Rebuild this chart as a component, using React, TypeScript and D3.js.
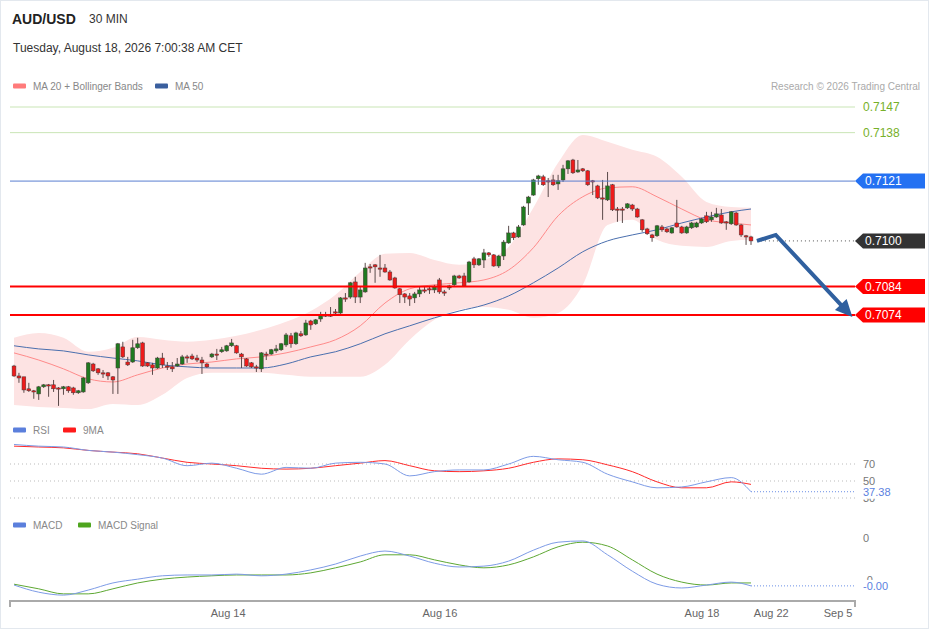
import React, { useRef, useEffect } from 'react';
import * as d3 from 'd3';

// 30 min candles
const opens = [
  0.70561, 0.70526, 0.70523, 0.70481, 0.70474, 0.70463, 0.70488, 0.70495, 0.70495, 0.70484,
  0.70481, 0.70488, 0.70484, 0.70467, 0.70470, 0.70502, 0.70568, 0.70551, 0.70537, 0.70537,
  0.70523, 0.70554, 0.70628, 0.70575, 0.70575, 0.70625, 0.70642, 0.70572, 0.70565, 0.70554,
  0.70589, 0.70561, 0.70558, 0.70561, 0.70568, 0.70593, 0.70596, 0.70589, 0.70582, 0.70568,
  0.70593, 0.70603, 0.70611, 0.70614, 0.70632, 0.70632, 0.70603, 0.70586, 0.70572, 0.70558,
  0.70551, 0.70603, 0.70603, 0.70614, 0.70618, 0.70635, 0.70667, 0.70639, 0.70674, 0.70670,
  0.70719, 0.70709, 0.70726, 0.70740, 0.70740, 0.70751, 0.70747, 0.70800, 0.70803, 0.70856,
  0.70803, 0.70821, 0.70909, 0.70916, 0.70905, 0.70905, 0.70891, 0.70870, 0.70832, 0.70814,
  0.70807, 0.70800, 0.70814, 0.70828, 0.70832, 0.70828, 0.70863, 0.70821, 0.70835, 0.70846,
  0.70877, 0.70877, 0.70856, 0.70937, 0.70916, 0.70933, 0.70958, 0.70951, 0.70912, 0.70947,
  0.70993, 0.71028, 0.71014, 0.71056, 0.71133, 0.71161, 0.71218, 0.71225, 0.71211, 0.71214,
  0.71200, 0.71214, 0.71253, 0.71284, 0.71242, 0.71253, 0.71246, 0.71211, 0.71193, 0.71151,
  0.71144, 0.71197, 0.71112, 0.71112, 0.71116, 0.71126, 0.71112, 0.71074, 0.71042, 0.71021,
  0.71018, 0.71049, 0.71042, 0.71028, 0.71063, 0.71049, 0.71028, 0.71046, 0.71049, 0.71063,
  0.71088, 0.71074, 0.71084, 0.71091, 0.71067, 0.71060, 0.71098, 0.71056, 0.71018, 0.71014,
];
const highs = [
  0.70565, 0.70537, 0.70523, 0.70502, 0.70477, 0.70491, 0.70498, 0.70498, 0.70512, 0.70487,
  0.70491, 0.70491, 0.70488, 0.70477, 0.70523, 0.70575, 0.70572, 0.70554, 0.70547, 0.70540,
  0.70526, 0.70642, 0.70646, 0.70593, 0.70653, 0.70660, 0.70646, 0.70575, 0.70572, 0.70593,
  0.70607, 0.70575, 0.70575, 0.70589, 0.70600, 0.70600, 0.70604, 0.70600, 0.70593, 0.70572,
  0.70607, 0.70621, 0.70628, 0.70635, 0.70656, 0.70635, 0.70607, 0.70589, 0.70575, 0.70565,
  0.70610, 0.70611, 0.70621, 0.70635, 0.70642, 0.70677, 0.70677, 0.70681, 0.70684, 0.70723,
  0.70723, 0.70726, 0.70751, 0.70751, 0.70768, 0.70761, 0.70803, 0.70817, 0.70856, 0.70874,
  0.70839, 0.70923, 0.70919, 0.70919, 0.70951, 0.70919, 0.70898, 0.70874, 0.70835, 0.70817,
  0.70817, 0.70821, 0.70839, 0.70839, 0.70839, 0.70846, 0.70870, 0.70828, 0.70846, 0.70881,
  0.70881, 0.70888, 0.70930, 0.70944, 0.70940, 0.70972, 0.70961, 0.70954, 0.70951, 0.71003,
  0.71053, 0.71032, 0.71056, 0.71123, 0.71158, 0.71218, 0.71232, 0.71232, 0.71221, 0.71232,
  0.71232, 0.71267, 0.71284, 0.71288, 0.71284, 0.71256, 0.71249, 0.71214, 0.71197, 0.71214,
  0.71242, 0.71200, 0.71119, 0.71119, 0.71133, 0.71130, 0.71116, 0.71077, 0.71046, 0.71025,
  0.71056, 0.71056, 0.71046, 0.71049, 0.71144, 0.71053, 0.71053, 0.71067, 0.71067, 0.71081,
  0.71102, 0.71102, 0.71116, 0.71112, 0.71070, 0.71105, 0.71102, 0.71060, 0.71021, 0.71018,
];
const lows = [
  0.70523, 0.70502, 0.70467, 0.70470, 0.70446, 0.70442, 0.70484, 0.70453, 0.70470, 0.70421,
  0.70460, 0.70467, 0.70460, 0.70463, 0.70467, 0.70498, 0.70540, 0.70530, 0.70519, 0.70512,
  0.70463, 0.70463, 0.70589, 0.70561, 0.70572, 0.70621, 0.70558, 0.70558, 0.70530, 0.70551,
  0.70554, 0.70547, 0.70540, 0.70558, 0.70565, 0.70572, 0.70582, 0.70575, 0.70533, 0.70554,
  0.70589, 0.70582, 0.70607, 0.70611, 0.70628, 0.70604, 0.70554, 0.70558, 0.70554, 0.70540,
  0.70540, 0.70582, 0.70600, 0.70607, 0.70614, 0.70628, 0.70625, 0.70635, 0.70663, 0.70667,
  0.70688, 0.70705, 0.70716, 0.70733, 0.70733, 0.70740, 0.70744, 0.70786, 0.70797, 0.70782,
  0.70782, 0.70818, 0.70888, 0.70853, 0.70874, 0.70888, 0.70860, 0.70832, 0.70782, 0.70782,
  0.70772, 0.70782, 0.70803, 0.70817, 0.70814, 0.70817, 0.70814, 0.70807, 0.70828, 0.70842,
  0.70867, 0.70839, 0.70853, 0.70905, 0.70912, 0.70905, 0.70944, 0.70909, 0.70905, 0.70933,
  0.70990, 0.71003, 0.71011, 0.71053, 0.71091, 0.71158, 0.71197, 0.71193, 0.71154, 0.71193,
  0.71179, 0.71207, 0.71235, 0.71235, 0.71239, 0.71242, 0.71193, 0.71161, 0.71147, 0.71074,
  0.71140, 0.71105, 0.71067, 0.71063, 0.71112, 0.71105, 0.71081, 0.71032, 0.71021, 0.70997,
  0.71014, 0.71032, 0.71028, 0.71025, 0.71046, 0.71025, 0.71025, 0.71042, 0.71046, 0.71060,
  0.71063, 0.71067, 0.71081, 0.71060, 0.71039, 0.71056, 0.71053, 0.71014, 0.70986, 0.70986,
];
const closes = [
  0.70526, 0.70519, 0.70477, 0.70474, 0.70470, 0.70488, 0.70495, 0.70491, 0.70481, 0.70482,
  0.70488, 0.70474, 0.70467, 0.70474, 0.70519, 0.70572, 0.70544, 0.70537, 0.70533, 0.70526,
  0.70512, 0.70639, 0.70593, 0.70565, 0.70625, 0.70639, 0.70561, 0.70561, 0.70554, 0.70589,
  0.70565, 0.70558, 0.70551, 0.70568, 0.70593, 0.70589, 0.70586, 0.70582, 0.70572, 0.70558,
  0.70603, 0.70601, 0.70618, 0.70632, 0.70642, 0.70607, 0.70593, 0.70561, 0.70558, 0.70556,
  0.70607, 0.70601, 0.70618, 0.70621, 0.70639, 0.70670, 0.70639, 0.70677, 0.70667, 0.70712,
  0.70705, 0.70723, 0.70737, 0.70738, 0.70738, 0.70749, 0.70800, 0.70798, 0.70853, 0.70803,
  0.70828, 0.70905, 0.70907, 0.70909, 0.70903, 0.70891, 0.70863, 0.70835, 0.70811, 0.70803,
  0.70796, 0.70814, 0.70828, 0.70826, 0.70830, 0.70839, 0.70821, 0.70817, 0.70842, 0.70877,
  0.70870, 0.70842, 0.70926, 0.70916, 0.70937, 0.70958, 0.70951, 0.70912, 0.70947, 0.70996,
  0.71028, 0.71011, 0.71049, 0.71119, 0.71154, 0.71214, 0.71228, 0.71197, 0.71209, 0.71197,
  0.71211, 0.71253, 0.71281, 0.71239, 0.71249, 0.71246, 0.71197, 0.71209, 0.71151, 0.71149,
  0.71193, 0.71109, 0.71110, 0.71110, 0.71130, 0.71112, 0.71084, 0.71039, 0.71025, 0.71011,
  0.71053, 0.71039, 0.71032, 0.71046, 0.71049, 0.71028, 0.71049, 0.71063, 0.71063, 0.71077,
  0.71067, 0.71084, 0.71095, 0.71063, 0.71065, 0.71102, 0.71056, 0.71021, 0.71014, 0.71000,
];

// indicator readings, sampled every 5 candles
const sampleIdx = [0, 5, 10, 15, 20, 25, 30, 35, 40, 45, 50, 55, 60, 65, 70, 75, 80, 85, 90, 95, 100, 105, 110, 115, 120, 125, 130, 135, 140, 145, 149];
const ma20 = [0.70607, 0.70582, 0.70551, 0.70516, 0.70505, 0.70530, 0.70554, 0.70568, 0.70575, 0.70586, 0.70593, 0.70607, 0.70628, 0.70653, 0.70702, 0.70782, 0.70832, 0.70846, 0.70853, 0.70863, 0.70898, 0.70976, 0.71088, 0.71155, 0.71186, 0.71190, 0.71155, 0.71112, 0.71074, 0.71063, 0.71056];
const ma50 = [0.70632, 0.70621, 0.70614, 0.70600, 0.70589, 0.70579, 0.70565, 0.70558, 0.70554, 0.70554, 0.70554, 0.70568, 0.70593, 0.70611, 0.70639, 0.70674, 0.70702, 0.70730, 0.70754, 0.70775, 0.70807, 0.70853, 0.70905, 0.70962, 0.71000, 0.71021, 0.71039, 0.71063, 0.71084, 0.71102, 0.71112];
const bbUpper = [0.70660, 0.70677, 0.70660, 0.70611, 0.70625, 0.70663, 0.70653, 0.70646, 0.70653, 0.70667, 0.70688, 0.70716, 0.70754, 0.70811, 0.70891, 0.70955, 0.70958, 0.70933, 0.70916, 0.70933, 0.70979, 0.71116, 0.71274, 0.71372, 0.71348, 0.71320, 0.71295, 0.71225, 0.71137, 0.71119, 0.71116];
const bbLower = [0.70424, 0.70417, 0.70414, 0.70410, 0.70428, 0.70424, 0.70460, 0.70519, 0.70537, 0.70537, 0.70537, 0.70530, 0.70523, 0.70523, 0.70523, 0.70565, 0.70653, 0.70723, 0.70758, 0.70768, 0.70758, 0.70730, 0.70747, 0.70846, 0.71056, 0.71074, 0.71004, 0.70983, 0.70979, 0.71000, 0.71004];
const rsi = [93, 91, 90, 86, 84, 81, 77, 68, 71, 65, 58, 66, 65, 71, 72, 70, 56, 61, 63, 63, 70, 79, 75, 72, 58, 49, 42, 43, 49, 54, 37.38];
const rsiMa = [91, 90, 89, 86, 84, 82, 77, 72, 70, 68, 65, 64, 65, 68, 71, 74, 68, 62, 61, 62, 65, 72, 76, 75, 69, 61, 49, 42, 42, 49, 46];
const macd = [-0.00112, -0.00129, -0.00136, -0.00124, -0.00107, -0.00098, -0.0009, -0.00088, -0.00088, -0.00086, -0.0009, -0.00086, -0.00076, -0.00062, -0.00043, -0.00031, -0.00043, -0.0006, -0.00069, -0.00067, -0.00055, -0.00029, -0.0001, -0.00007, -0.0004, -0.00079, -0.0011, -0.00119, -0.00112, -0.00105, -0.00114];
const macdSignal = [-0.0011, -0.00121, -0.00133, -0.00133, -0.00121, -0.00107, -0.00098, -0.00093, -0.0009, -0.00088, -0.00088, -0.00088, -0.00083, -0.00071, -0.00057, -0.0004, -0.0004, -0.00052, -0.00064, -0.00071, -0.00064, -0.00045, -0.00021, -0.0001, -0.00019, -0.00052, -0.00086, -0.00105, -0.00112, -0.00107, -0.00107];

const xTickIdx = [43.3, 86.1, 139.1, 153.1, 166.6];
const xTickLabels = ['Aug 14', 'Aug 16', 'Aug 18', 'Aug 22', 'Sep 5'];

// key levels
const levelValues = [0.7147, 0.7138, 0.7121, 0.71, 0.7084, 0.7074];
const levelKinds = ['target', 'target', 'pivot', 'last', 'support', 'support'];

// forecast arrow (candle index, price)
const arrowIdx = [150.2, 154, 169.5];
const arrowPrice = [0.71, 0.71021, 0.70733];

const rsiTicks = [70, 50, 30];
const macdTicks = [0, -0.001];
const macdTickLabels = ['0', '-0'];

const FONT = '"Liberation Sans", Arial, Helvetica, sans-serif';
const GREEN = '#1f7a1f';
const RED = '#ee1b1b';

const App: React.FC = () => {
  const ref = useRef<SVGSVGElement>(null);

  useEffect(() => {
    if (!ref.current) return;
    const svg = d3.select(ref.current);
    svg.selectAll('*').remove();
    svg.attr('font-family', FONT);

    const x = d3.scaleLinear().domain([0, 149]).range([14, 751]);
    const y = d3.scaleLinear().domain([0.7074, 0.7147]).range([315, 107]);
    const yRsi = d3.scaleLinear().domain([30, 70]).range([498, 464]);
    const yMacd = d3.scaleLinear().domain([-0.001, 0]).range([580, 538]);
    const left = 10;
    const right = 855;

    svg.append('rect').attr('x', 0.5).attr('y', 0.5).attr('width', 928).attr('height', 628)
      .attr('fill', '#fff').attr('stroke', '#e3e8ee');

    // header
    svg.append('text').attr('x', 12).attr('y', 24).attr('font-size', 14).attr('font-weight', 'bold')
      .attr('fill', '#222').text('AUD/USD');
    svg.append('text').attr('x', 89).attr('y', 23).attr('font-size', 12).attr('fill', '#333').text('30 MIN');
    svg.append('text').attr('x', 13).attr('y', 52).attr('font-size', 12).attr('fill', '#333')
      .text('Tuesday, August 18, 2026 7:00:38 AM CET');

    const legend = (lx: number, ly: number, color: string, label: string) => {
      svg.append('rect').attr('x', lx).attr('y', ly - 2.5).attr('width', 13).attr('height', 5).attr('rx', 1).attr('fill', color);
      svg.append('text').attr('x', lx + 20).attr('y', ly + 3.5).attr('font-size', 10).attr('fill', '#888').text(label);
    };
    legend(13, 86, '#ff7b7b', 'MA 20 + Bollinger Bands');
    legend(155, 86, '#3a5f9e', 'MA 50');
    svg.append('text').attr('x', 920).attr('y', 89.5).attr('text-anchor', 'end').attr('font-size', 10)
      .attr('fill', '#aaa').text('Research \u00a9 2026 Trading Central');

    // bollinger band + moving averages
    const band = d3.area<number>()
      .x((_, i) => x(sampleIdx[i]))
      .y0((_, i) => y(bbLower[i]))
      .y1((_, i) => y(bbUpper[i]))
      .curve(d3.curveMonotoneX);
    svg.append('path').datum(sampleIdx).attr('d', band).attr('fill', '#fde3e3');

    const priceLine = (vals: number[]) => d3.line<number>()
      .x((_, i) => x(sampleIdx[i]))
      .y(d => y(d))
      .curve(d3.curveMonotoneX)(vals);
    svg.append('path').attr('d', priceLine(ma20)).attr('fill', 'none').attr('stroke', '#ff8a8a').attr('stroke-width', 1);
    svg.append('path').attr('d', priceLine(ma50)).attr('fill', 'none').attr('stroke', '#4a6fae').attr('stroke-width', 1);

    // candles
    const candles = svg.append('g');
    closes.forEach((c, i) => {
      const o = opens[i];
      const cx = x(i);
      candles.append('line').attr('x1', cx).attr('x2', cx).attr('y1', y(highs[i])).attr('y2', y(lows[i]))
        .attr('stroke', '#5a4a4a').attr('stroke-width', 1);
      const top = y(Math.max(o, c));
      const h = Math.max(1.2, Math.abs(y(o) - y(c)));
      candles.append('rect').attr('x', cx - 1.9).attr('y', top).attr('width', 3.8).attr('height', h)
        .attr('fill', c >= o ? GREEN : RED).attr('stroke', '#4a3a3a').attr('stroke-width', 0.5);
    });

    // key level lines and labels
    const tag = (cy: number, fill: string, label: string) => {
      const p = d3.path();
      p.moveTo(right, cy);
      p.lineTo(right + 8, cy - 7.5);
      p.lineTo(925, cy - 7.5);
      p.lineTo(925, cy + 7.5);
      p.lineTo(right + 8, cy + 7.5);
      p.closePath();
      svg.append('path').attr('d', p.toString()).attr('fill', fill);
      svg.append('text').attr('x', 865).attr('y', cy + 4.3).attr('font-size', 12).attr('fill', '#fff').text(label);
    };
    levelValues.forEach((v, i) => {
      const ly = y(v);
      const kind = levelKinds[i];
      const label = v.toFixed(4);
      if (kind === 'target') {
        svg.append('line').attr('x1', left).attr('x2', right).attr('y1', ly).attr('y2', ly)
          .attr('stroke', '#c9e5b5').attr('stroke-width', 1);
        svg.append('text').attr('x', 863).attr('y', ly + 4).attr('font-size', 12).attr('fill', '#77b02a').text(label);
      } else if (kind === 'pivot') {
        svg.append('line').attr('x1', left).attr('x2', right).attr('y1', ly).attr('y2', ly)
          .attr('stroke', '#5a7fd0').attr('stroke-width', 1);
        tag(ly, '#2471f2', label);
      } else if (kind === 'last') {
        svg.append('line').attr('x1', x(arrowIdx[0])).attr('x2', right).attr('y1', ly).attr('y2', ly)
          .attr('stroke', '#555').attr('stroke-width', 1).attr('stroke-dasharray', '1,3');
        tag(ly, '#333', label);
      } else {
        svg.append('line').attr('x1', left).attr('x2', right).attr('y1', ly).attr('y2', ly)
          .attr('stroke', '#ff0000').attr('stroke-width', 2);
        tag(ly, '#ff0000', label);
      }
    });

    // forecast arrow
    const pts = arrowIdx.map((d, i) => [x(d), y(arrowPrice[i])] as [number, number]);
    const tip = pts[pts.length - 1];
    const prev = pts[pts.length - 2];
    const len = Math.hypot(tip[0] - prev[0], tip[1] - prev[1]);
    const ux = (tip[0] - prev[0]) / len;
    const uy = (tip[1] - prev[1]) / len;
    const headL = 17;
    const headW = 8;
    const bx = tip[0] - ux * headL;
    const by = tip[1] - uy * headL;
    const shaft = pts.slice(0, -1).concat([[bx + ux * 2, by + uy * 2]]);
    svg.append('path').attr('d', d3.line()(shaft)).attr('fill', 'none').attr('stroke', '#30609f')
      .attr('stroke-width', 4).attr('stroke-linejoin', 'miter');
    svg.append('path')
      .attr('d', `M${tip[0]},${tip[1]}L${bx - uy * headW},${by + ux * headW}L${bx + uy * headW},${by - ux * headW}Z`)
      .attr('fill', '#30609f');

    // RSI panel
    legend(13, 430, '#5b7fdc', 'RSI');
    legend(63, 430, '#ff1a1a', '9MA');
    rsiTicks.forEach(t => {
      svg.append('line').attr('x1', left).attr('x2', right).attr('y1', yRsi(t)).attr('y2', yRsi(t))
        .attr('stroke', '#bbb').attr('stroke-dasharray', '1,3');
      svg.append('text').attr('x', 863).attr('y', yRsi(t) + 4).attr('font-size', 11).attr('fill', '#777').text(String(t));
    });
    const rsiLine = (vals: number[]) => d3.line<number>()
      .x((_, i) => x(sampleIdx[i]))
      .y(d => yRsi(d))
      .curve(d3.curveMonotoneX)(vals);
    svg.append('path').attr('d', rsiLine(rsiMa)).attr('fill', 'none').attr('stroke', '#ff2a2a').attr('stroke-width', 1);
    svg.append('path').attr('d', rsiLine(rsi)).attr('fill', 'none').attr('stroke', '#7d9be6').attr('stroke-width', 1);
    const rsiLast = rsi[rsi.length - 1];
    svg.append('line').attr('x1', x(149)).attr('x2', right).attr('y1', yRsi(rsiLast)).attr('y2', yRsi(rsiLast))
      .attr('stroke', '#6b8fe6').attr('stroke-dasharray', '1,2');
    svg.append('rect').attr('x', 860).attr('y', yRsi(rsiLast) - 6).attr('width', 40).attr('height', 13).attr('fill', '#fff');
    svg.append('text').attr('x', 863).attr('y', yRsi(rsiLast) + 4).attr('font-size', 11).attr('fill', '#5b7fe0')
      .text(rsiLast.toFixed(2));

    // MACD panel
    legend(13, 525, '#5b7fdc', 'MACD');
    legend(78, 525, '#4ea51e', 'MACD Signal');
    macdTicks.forEach((t, i) => {
      svg.append('text').attr('x', 863).attr('y', yMacd(t) + 4).attr('font-size', 11).attr('fill', '#777').text(macdTickLabels[i]);
    });
    const macdLine = (vals: number[]) => d3.line<number>()
      .x((_, i) => x(sampleIdx[i]))
      .y(d => yMacd(d))
      .curve(d3.curveMonotoneX)(vals);
    svg.append('path').attr('d', macdLine(macdSignal)).attr('fill', 'none').attr('stroke', '#5ea833').attr('stroke-width', 1);
    svg.append('path').attr('d', macdLine(macd)).attr('fill', 'none').attr('stroke', '#7d9be6').attr('stroke-width', 1);
    const macdLast = macd[macd.length - 1];
    svg.append('line').attr('x1', x(149)).attr('x2', right).attr('y1', yMacd(macdLast)).attr('y2', yMacd(macdLast))
      .attr('stroke', '#6b8fe6').attr('stroke-dasharray', '1,2');
    svg.append('rect').attr('x', 860).attr('y', yMacd(macdLast) - 6).attr('width', 40).attr('height', 13).attr('fill', '#fff');
    svg.append('text').attr('x', 863).attr('y', yMacd(macdLast) + 4).attr('font-size', 11).attr('fill', '#5b7fe0')
      .text(macdLast.toFixed(2));

    // time axis
    svg.append('path').attr('d', `M${left},607V601H${right}V607`).attr('fill', 'none')
      .attr('stroke', '#aaa').attr('stroke-width', 2);
    xTickIdx.forEach((t, i) => {
      svg.append('text').attr('x', x(t)).attr('y', 617).attr('text-anchor', 'middle').attr('font-size', 11)
        .attr('fill', '#666').text(xTickLabels[i]);
    });
  }, []);

  return (
    <div style={{ position: 'absolute', left: 0, top: 0 }}>
      <svg ref={ref} width={929} height={629}></svg>
    </div>
  );
};

export default App;
